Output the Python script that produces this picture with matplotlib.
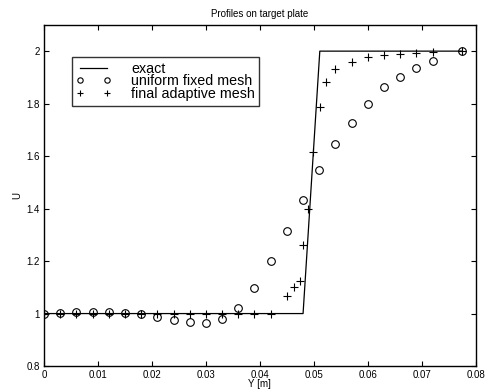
import matplotlib
matplotlib.use("Agg")
import matplotlib.pyplot as plt

# exact profile
y_exact = [0.0, 0.048, 0.0511, 0.0775]
u_exact = [1.0, 1.0, 2.0, 2.0]

# uniform fixed mesh
y_uni = [0.0, 0.003, 0.006, 0.009, 0.012, 0.015, 0.018, 0.021, 0.024, 0.027,
         0.030, 0.033, 0.036, 0.039, 0.042, 0.045, 0.048, 0.051, 0.054, 0.057,
         0.060, 0.063, 0.066, 0.069, 0.072, 0.0775]
u_uni = [1.0, 1.003, 1.006, 1.007, 1.007, 1.004, 0.998, 0.987, 0.975, 0.967,
         0.963, 0.978, 1.023, 1.099, 1.200, 1.313, 1.434, 1.548, 1.645, 1.728,
         1.800, 1.862, 1.903, 1.937, 1.963, 2.0]

# final adaptive mesh
y_ada = [0.0, 0.003, 0.006, 0.009, 0.012, 0.015, 0.018, 0.021, 0.024, 0.027,
         0.030, 0.033, 0.036, 0.039, 0.042, 0.045, 0.0464, 0.0474, 0.048, 0.049,
         0.0499, 0.0511, 0.0523, 0.054, 0.057, 0.060, 0.063, 0.066, 0.069,
         0.072, 0.0775]
u_ada = [1.0, 1.0, 1.0, 1.0, 1.0, 1.0, 1.0, 1.0, 1.0, 1.0,
         1.0, 0.998, 0.998, 1.0, 1.0, 1.068, 1.103, 1.125, 1.262, 1.397,
         1.615, 1.789, 1.882, 1.931, 1.960, 1.978, 1.985, 1.990, 1.993,
         1.997, 2.0]

xticks = [0, 0.01, 0.02, 0.03, 0.04, 0.05, 0.06, 0.07, 0.08]
xticklabels = ["0", "0.01", "0.02", "0.03", "0.04", "0.05", "0.06", "0.07", "0.08"]
yticks = [0.8, 1.0, 1.2, 1.4, 1.6, 1.8, 2.0]
yticklabels = ["0.8", "1", "1.2", "1.4", "1.6", "1.8", "2"]

plt.rcParams["font.family"] = ["Liberation Sans", "DejaVu Sans"]

fig = plt.figure(figsize=(4.86, 3.89), dpi=100)
ax = fig.add_axes([0.0905, 0.059, 0.8885, 0.877])

ax.plot(y_exact, u_exact, color="black", linewidth=0.9, label="exact")
ax.plot(y_uni, u_uni, linestyle="none", marker="o", markersize=5.5,
        markerfacecolor="none", markeredgecolor="black", markeredgewidth=0.8,
        label="uniform fixed mesh")
ax.plot(y_ada, u_ada, linestyle="none", marker="+", markersize=6,
        color="black", markeredgewidth=0.8, label="final adaptive mesh")

ax.set_xlim(0, 0.08)
ax.set_ylim(0.8, 2.1)
ax.set_xticks(xticks)
ax.set_xticklabels(xticklabels)
ax.set_yticks(yticks)
ax.set_yticklabels(yticklabels)
ax.tick_params(direction="in", top=True, right=True, length=3.5, width=0.8,
               labelsize=7, pad=3)
for s in ax.spines.values():
    s.set_linewidth(1.0)

ax.set_title("Profiles on target plate", fontsize=7, pad=6)
ax.set_xlabel("Y [m]", fontsize=7, labelpad=-1)
ax.set_ylabel("U", fontsize=7, labelpad=3)

leg = ax.legend(loc="upper left", bbox_to_anchor=(0.064, 0.905), numpoints=2,
                fontsize=10.3, frameon=True, fancybox=False, edgecolor="black",
                borderpad=0.3, labelspacing=-0.08, handlelength=2.5,
                handletextpad=1.35, borderaxespad=0, markerscale=0.7)
leg.get_frame().set_linewidth(1.0)

fig.savefig("out.png", dpi=100)
